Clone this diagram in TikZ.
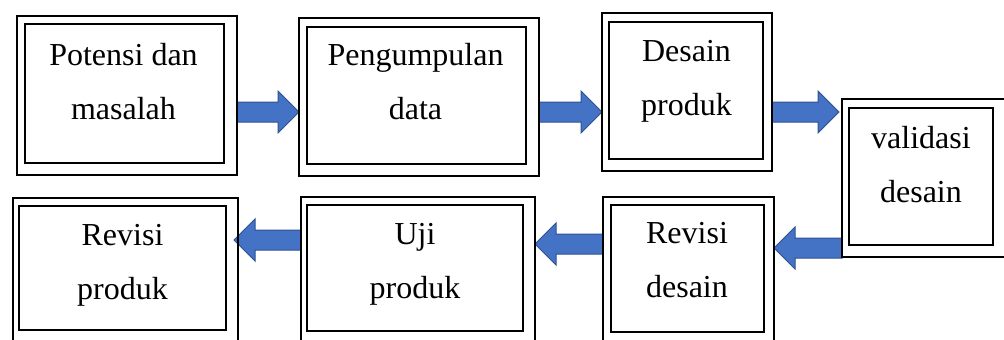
\documentclass[tikz,border=0pt]{standalone}
\usepackage{fontspec}
\setmainfont{Liberation Serif}
\usetikzlibrary{calc}

\definecolor{flowfill}{HTML}{4472C4}
\definecolor{flowedge}{HTML}{2F528F}

% block arrow from #1 towards #2, kept at the height of #1
\newcommand{\flowarrow}[2]{%
  \filldraw[flow] let \p1=(#1), \p2=(#2), \n1={sign(\x2-\x1)} in
    (\x1,{\y1+10pt}) -- ({\x2-\n1*21pt},{\y1+10pt}) -- ({\x2-\n1*21pt},{\y1+21pt})
    -- (\x2,\y1) -- ({\x2-\n1*21pt},{\y1-21pt}) -- ({\x2-\n1*21pt},{\y1-10pt})
    -- (\x1,{\y1-10pt}) -- cycle;}

\begin{document}
\begin{tikzpicture}[x=1pt,y=-1pt,
    outerbox/.style={draw,line width=2.8pt,outer sep=0pt,inner sep=0pt},
    innerbox/.style={draw,line width=1.2pt,outer sep=0pt,inner sep=0pt},
    steptext/.style={anchor=north,align=center,inner sep=0pt,
      font=\fontsize{32}{54}\selectfont},
    flow/.style={fill=flowfill,draw=flowedge,line width=1pt,line join=miter}]
	\useasboundingbox (0,0) rectangle (1004,340);

	% outer frames
	\node[outerbox,minimum width=220,minimum height=159] at (127, 95.5)   (potensi) {};
	\node[outerbox,minimum width=240,minimum height=158] at (419, 97)     (kumpul) {};
	\node[outerbox,minimum width=170,minimum height=158] at (687, 92)     (desain) {};
	\node[outerbox,minimum width=180,minimum height=158] at (932, 178)    (validasi) {};

	\node[outerbox,minimum width=171,minimum height=150] at (688.5, 272)  (revdesain) {};
	\node[outerbox,minimum width=234,minimum height=150] at (418, 272)    (uji) {};
	\node[outerbox,minimum width=225,minimum height=149] at (125.5, 272.5) (revproduk) {};

	% arrows between the steps
	\flowarrow{[yshift=-16.5pt]potensi.east}{kumpul.west}
	\flowarrow{[yshift=-15pt]kumpul.east}{desain.west}
	\flowarrow{[yshift=-20pt]desain.east}{[xshift=-3pt]validasi.west}
	\flowarrow{[yshift=-70pt]validasi.west}{revdesain.east}
	\flowarrow{[yshift=28pt]revdesain.west}{uji.east}
	\flowarrow{[yshift=32pt]uji.west}{[xshift=-4pt]revproduk.east}

	% redraw outer frames over the arrow ends
	\foreach \b in {potensi,kumpul,desain,validasi,revdesain,uji,revproduk}
	  \draw[line width=2.8pt] (\b.north west) rectangle (\b.south east);

	% inner frames
	\node[innerbox,minimum width=199,minimum height=139] at (124.5, 93.5) (potensi-in) {};
	\node[innerbox,minimum width=219,minimum height=137] at (416.5, 95.5) (kumpul-in) {};
	\node[innerbox,minimum width=154,minimum height=137] at (686, 90.5)   (desain-in) {};
	\node[innerbox,minimum width=144,minimum height=137] at (921, 176.5)  (validasi-in) {};

	\node[innerbox,minimum width=153,minimum height=127] at (687.5, 268.5) (revdesain-in) {};
	\node[innerbox,minimum width=216,minimum height=126] at (415, 268)     (uji-in) {};
	\node[innerbox,minimum width=207,minimum height=124] at (122.5, 268)   (revproduk-in) {};

	% labels
	\node[steptext] at (123.5, 43)  (potensi-txt)   {Potensi dan\\masalah};
	\node[steptext] at (415.5, 43)  (kumpul-txt)    {Pengumpulan\\data};
	\node[steptext] at (686.5, 40)  (desain-txt)    {Desain\\produk};
	\node[steptext] at (921, 126)   (validasi-txt)  {validasi\\desain};
	\node[steptext] at (687, 222)   (revdesain-txt) {Revisi\\desain};
	\node[steptext] at (415, 223)   (uji-txt)       {Uji\\produk};
	\node[steptext] at (122.5, 224) (revproduk-txt) {Revisi\\produk};

\end{tikzpicture}
\end{document}
